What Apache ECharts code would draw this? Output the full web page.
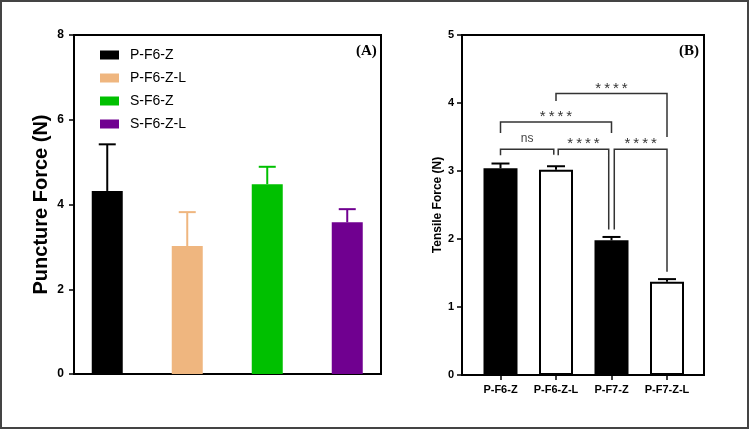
<!DOCTYPE html>
<html>
<head>
<meta charset="utf-8">
<script src="https://cdn.jsdelivr.net/npm/echarts@6.0.0/dist/echarts.min.js"></script>
<style>
html,body{margin:0;padding:0;background:#fff;}
#chart{width:749px;height:429px;}
</style>
</head>
<body>
<div id="chart"></div>
<script>
// ---- Panel A data ----
const leftCategories = ['P-F6-Z', 'P-F6-Z-L', 'S-F6-Z', 'S-F6-Z-L'];
const leftMeans = [4.32, 3.02, 4.48, 3.58];
const leftUpper = [5.42, 3.82, 4.89, 3.89];
const leftColors = ['#000000', '#EFB67F', '#00C000', '#700090'];
const leftYMax = 8;
const leftYInterval = 2;

// ---- Panel B data ----
const rightCategories = ['P-F6-Z', 'P-F6-Z-L', 'P-F7-Z', 'P-F7-Z-L'];
const rightMeans = [3.04, 3.02, 1.98, 1.37];
const rightUpper = [3.11, 3.07, 2.03, 1.41];
const rightFills = ['#000000', '#ffffff', '#000000', '#ffffff'];
const rightYMax = 5;
const rightYInterval = 1;

// significance brackets: [from, to, level, leftLegEnd, rightLegEnd, label]
const brackets = [
  [0.00, 0.96, 3.32, 3.23, 3.24, 'ns'],
  [1.04, 1.95, 3.32, 3.23, 2.14, '****'],
  [2.05, 3.00, 3.32, 2.14, 1.52, '****'],
  [0.00, 2.00, 3.72, 3.56, 3.56, '****'],
  [1.00, 3.00, 4.14, 4.03, 3.50, '****']
];

const FONT = '"Liberation Sans", Arial, sans-serif';

function errRender(colors, capW, lw) {
  return function (params, api) {
    const i = api.value(0);
    const top = api.coord([i, api.value(2)]);
    const base = api.coord([i, api.value(1)]);
    const c = colors[params.dataIndex];
    return {
      type: 'group',
      children: [
        { type: 'line', shape: { x1: base[0], y1: base[1], x2: top[0], y2: top[1] }, style: { stroke: c, lineWidth: lw } },
        { type: 'line', shape: { x1: top[0] - capW / 2, y1: top[1], x2: top[0] + capW / 2, y2: top[1] }, style: { stroke: c, lineWidth: lw } }
      ]
    };
  };
}

function bracketRender(params, api) {
  const b = brackets[params.dataIndex];
  const c0 = api.coord([0, 0]);
  const c1 = api.coord([1, 0]);
  const band = c1[0] - c0[0];
  const px = v => c0[0] + v * band;
  const py = v => api.coord([0, v])[1];
  const x1 = px(b[0]), x2 = px(b[1]);
  const y = py(b[2]), y1 = py(b[3]), y2 = py(b[4]);
  const isNs = b[5] === 'ns';
  const txt = isNs ? b[5] : b[5].split('').join('\u2009');
  return {
    type: 'group',
    children: [
      { type: 'polyline', shape: { points: [[x1, y1], [x1, y], [x2, y], [x2, y2]] },
        style: { stroke: '#333', lineWidth: 1.5, fill: null } },
      { type: 'text', x: (x1 + x2) / 2, y: y - (isNs ? 10.5 : 5),
        style: { text: txt, align: 'center', verticalAlign: 'middle',
          fontSize: isNs ? 12 : 15, fontFamily: FONT, fill: isNs ? '#444' : '#333' } }
    ]
  };
}

const chart = echarts.init(document.getElementById('chart'), null, { renderer: 'canvas' });

const leftBarSeries = leftCategories.map((name, i) => ({
  type: 'bar',
  name: name,
  xAxisIndex: 1,
  yAxisIndex: 1,
  stack: 'A',
  barWidth: 31,
  data: leftCategories.map((_, j) => (j === i ? leftMeans[i] : '-')),
  itemStyle: { color: leftColors[i] },
  emphasis: { disabled: true },
  z: 2
}));

const option = {
  animation: false,
  textStyle: { fontFamily: FONT },
  grid: [
    { left: 74, top: 35, width: 307, height: 339, show: true, borderColor: '#000', borderWidth: 2, backgroundColor: 'transparent' },
    { left: 67.25, top: 35, width: 320, height: 339 },
    { left: 462, top: 35, width: 242, height: 340, show: true, borderColor: '#000', borderWidth: 2, backgroundColor: 'transparent' },
    { left: 472.75, top: 35, width: 222, height: 340 }
  ],
  xAxis: [
    { gridIndex: 0, type: 'value', show: false, min: 0, max: 1 },
    { gridIndex: 1, type: 'category', data: leftCategories, show: false },
    { gridIndex: 2, type: 'value', show: false, min: 0, max: 1 },
    { gridIndex: 3, type: 'category', data: rightCategories,
      axisLine: { show: false },
      axisTick: { show: true, alignWithLabel: true, interval: 0, length: 5, lineStyle: { color: '#000', width: 1.5 } },
      axisLabel: { color: '#000', fontWeight: 'bold', fontSize: 11, margin: 9, interval: 0, fontFamily: FONT },
      splitLine: { show: false } }
  ],
  yAxis: [
    { gridIndex: 0, type: 'value', min: 0, max: leftYMax, interval: leftYInterval,
      name: 'Puncture Force (N)', nameLocation: 'middle', nameGap: 23,
      nameTextStyle: { fontSize: 20, fontWeight: 'bold', color: '#000', fontFamily: FONT },
      axisLine: { show: true, lineStyle: { color: '#000', width: 2 } },
      axisTick: { show: true, length: 5, lineStyle: { color: '#000', width: 1.5 } },
      axisLabel: { color: '#000', fontWeight: 'bold', fontSize: 12, margin: 10, fontFamily: FONT },
      splitLine: { show: false } },
    { gridIndex: 1, type: 'value', min: 0, max: leftYMax, show: false, splitLine: { show: false } },
    { gridIndex: 2, type: 'value', min: 0, max: rightYMax, interval: rightYInterval,
      name: 'Tensile Force (N)', nameLocation: 'middle', nameGap: 14,
      nameTextStyle: { fontSize: 12, fontWeight: 'bold', color: '#000', fontFamily: FONT },
      axisLine: { show: true, lineStyle: { color: '#000', width: 2 } },
      axisTick: { show: true, length: 5, lineStyle: { color: '#000', width: 1.5 } },
      axisLabel: { color: '#000', fontWeight: 'bold', fontSize: 11, margin: 8, fontFamily: FONT },
      splitLine: { show: false } },
    { gridIndex: 3, type: 'value', min: 0, max: rightYMax, show: false, splitLine: { show: false } }
  ],
  legend: {
    orient: 'vertical',
    left: 95,
    top: 43,
    itemWidth: 19,
    itemHeight: 9,
    itemGap: 9,
    icon: 'rect',
    data: leftCategories,
    selectedMode: false,
    textStyle: { fontSize: 14, color: '#000', fontFamily: FONT, padding: [0, 0, 0, 6] }
  },
  title: [
    { text: '(A)', left: 351, top: 39, textStyle: { fontFamily: '"Liberation Serif", "Times New Roman", serif', fontWeight: 'bold', fontSize: 15, color: '#000' } },
    { text: '(B)', left: 674, top: 39, textStyle: { fontFamily: '"Liberation Serif", "Times New Roman", serif', fontWeight: 'bold', fontSize: 15, color: '#000' } }
  ],
  graphic: [
    { type: 'rect', shape: { x: 1, y: 1, width: 747, height: 427 }, style: { fill: null, stroke: '#444', lineWidth: 2 }, silent: true }
  ],
  series: [
    ...leftBarSeries,
    {
      type: 'custom', xAxisIndex: 1, yAxisIndex: 1, z: 3,
      renderItem: errRender(leftColors, 17, 2),
      data: leftCategories.map((_, i) => [i, leftMeans[i], leftUpper[i]])
    },
    {
      type: 'bar', xAxisIndex: 3, yAxisIndex: 3, barWidth: 34, z: 2,
      emphasis: { disabled: true },
      data: rightMeans.map((v, i) => ({ value: v, itemStyle: { color: rightFills[i], borderColor: '#000', borderWidth: 2 } }))
    },
    {
      type: 'custom', xAxisIndex: 3, yAxisIndex: 3, z: 3,
      renderItem: errRender(rightCategories.map(() => '#000'), 18, 2),
      data: rightCategories.map((_, i) => [i, rightMeans[i], rightUpper[i]])
    },
    {
      type: 'custom', xAxisIndex: 3, yAxisIndex: 3, z: 4,
      renderItem: bracketRender,
      data: brackets.map(b => [b[0], b[2]])
    }
  ]
};
chart.setOption(option);
</script>
</body>
</html>
